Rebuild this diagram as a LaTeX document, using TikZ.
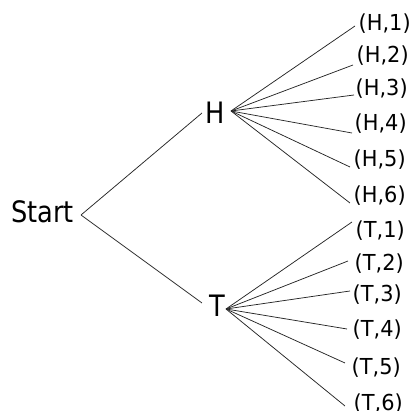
\documentclass[tikz,border=0pt]{standalone}
\usepackage{fontspec}
\setmainfont{DejaVu Sans}
\newfontfamily\bigf[FakeStretch=0.87]{DejaVu Sans}
\newfontfamily\leaff[FakeStretch=0.95]{DejaVu Sans}
\begin{document}
\begin{tikzpicture}[x=1pt,y=-1pt,
  conn/.style={draw=black!85, line width=0.75pt},
  big/.style={font=\bigf\fontsize{29.5}{29.5}\selectfont, inner sep=0},
  leaf/.style={font=\leaff\fontsize{22}{22}\selectfont, inner sep=0, anchor=base west}]
\useasboundingbox (0,0) rectangle (416,411);
\node[big, anchor=base west] (start) at (11,223) {Start};
\node[big, anchor=base] (H) at (215,124) {H};
\node[big, anchor=base] (T) at (217,317) {T};
\coordinate (s0) at (81,215);
\coordinate (hin) at (202,113);
\coordinate (tin) at (202,303);
\coordinate (h0) at (231,111);
\coordinate (t0) at (226,309);
\draw[conn] (s0) -- (hin);
\draw[conn] (s0) -- (tin);
\foreach \nm/\ex/\ey/\lx/\ly/\sd/\kk in {
  h1/355/26/358.5/31/H/1, h2/353/65/356.5/63/H/2, h3/354/95/355.5/96/H/3,
  h4/352/133/354.5/131/H/4, h5/350/167/353.5/167/H/5, h6/350/203/353.5/203/H/6}{
  \node[leaf] (l\nm) at (\lx,\ly) {(\sd,\kk)};
  \coordinate (e\nm) at (\ex,\ey);
  \draw[conn] (h0) -- (e\nm);
}
\foreach \nm/\ex/\ey/\lx/\ly/\sd/\kk in {
  t1/352/222/355.5/238/T/1, t2/348/261/354.5/271/T/2, t3/350/291/352.5/302/T/3,
  t4/347/329/352.5/337/T/4, t5/345/363/351.5/375/T/5, t6/345/406/353.5/411/T/6}{
  \node[leaf] (l\nm) at (\lx,\ly) {(\sd,\kk)};
  \coordinate (e\nm) at (\ex,\ey);
  \draw[conn] (t0) -- (e\nm);
}
\end{tikzpicture}
\end{document}
